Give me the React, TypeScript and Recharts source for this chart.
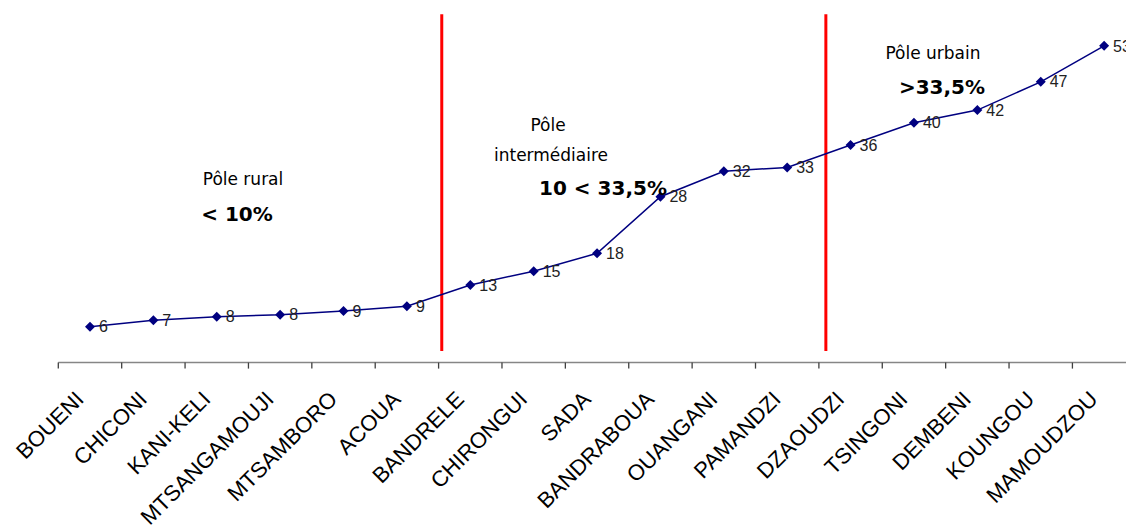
import React from "react";
import { LineChart, Line, XAxis, YAxis, ReferenceLine, LabelList } from "recharts";

// Communes of Mayotte, ordered by share (%)
const categories = [
  "BOUENI",
  "CHICONI",
  "KANI-KELI",
  "MTSANGAMOUJI",
  "MTSAMBORO",
  "ACOUA",
  "BANDRELE",
  "CHIRONGUI",
  "SADA",
  "BANDRABOUA",
  "OUANGANI",
  "PAMANDZI",
  "DZAOUDZI",
  "TSINGONI",
  "DEMBENI",
  "KOUNGOU",
  "MAMOUDZOU",
];

const shares = [6.0, 7.07, 7.68, 8.01, 8.63, 9.42, 12.98, 15.3, 18.28, 27.75, 32.0, 32.66, 36.4, 40.12, 42.25, 46.98, 53.0];

// Dividing lines between the rural, intermediate and urban groups (axis units)
const dividers = [6.05, 12.11];
const dividerSpan = [1.94, 58.3];

const data = categories.map((name, i) => ({ name, pos: i + 0.5, pct: shares[i] }));

// Boundary ticks at whole positions, name labels at half positions
const ticks: number[] = [];
for (let i = 0; i <= categories.length * 2; i++) ticks.push(i / 2);

const labelFont = "'Liberation Sans', Arial, sans-serif";
const noteFont = "'DejaVu Sans', 'Comic Sans MS', sans-serif";

function CommuneTick(props: any) {
  const { x, y, payload } = props;
  const v = payload.value as number;
  if (Number.isInteger(v)) {
    return <line x1={x} y1={y} x2={x} y2={y + 6} stroke="#404040" strokeWidth={1.3} />;
  }
  const name = categories[Math.floor(v)];
  const tx = x - 5;
  const ty = y + 38;
  return (
    <text
      x={tx}
      y={ty}
      transform={`rotate(-45 ${tx} ${ty})`}
      textAnchor="end"
      fontFamily={labelFont}
      fontSize={22}
      fill="#000"
    >
      {name}
    </text>
  );
}

function Diamond(props: any) {
  const { cx, cy, index } = props;
  if (cx == null || cy == null) return <g key={`d-${index}`} />;
  const r = 5;
  return (
    <path
      key={`d-${index}`}
      d={`M${cx},${cy - r}L${cx + r},${cy}L${cx},${cy + r}L${cx - r},${cy}Z`}
      fill="#000080"
    />
  );
}

type Note = { text: string; x: number; y: number; bold?: boolean };
const notes: Note[] = [
  { text: "Pôle rural", x: 243, y: 185 },
  { text: "< 10%", x: 237, y: 221, bold: true },
  { text: "Pôle", x: 548, y: 131 },
  { text: "intermédiaire", x: 551, y: 161 },
  { text: "10 < 33,5%", x: 603, y: 195, bold: true },
  { text: "Pôle urbain", x: 933, y: 59 },
  { text: ">33,5%", x: 942, y: 94, bold: true },
];

export default function App() {
  return (
    <div
      style={{
        position: "fixed",
        left: 0,
        top: 0,
        width: 1126,
        height: 527,
        overflow: "hidden",
        background: "#fff",
      }}
    >
      <LineChart width={1150} height={527} data={data} margin={{ top: 4, right: 14.2, bottom: 0, left: 58.3 }}>
        <XAxis
          dataKey="pos"
          type="number"
          domain={[0, categories.length]}
          ticks={ticks}
          interval={0}
          height={164.4}
          tickSize={0}
          tickMargin={0}
          tickLine={false}
          axisLine={{ stroke: "#868686", strokeWidth: 1.5 }}
          tick={<CommuneTick />}
        />
        <YAxis hide domain={[0, 60]} type="number" />
        {dividers.map((d) => (
          <ReferenceLine
            key={d}
            segment={[
              { x: d, y: dividerSpan[0] },
              { x: d, y: dividerSpan[1] },
            ]}
            stroke="#ff0000"
            strokeWidth={3}
          />
        ))}
        <Line
          dataKey="pct"
          stroke="#000080"
          strokeWidth={1.5}
          dot={Diamond}
          activeDot={false}
          isAnimationActive={false}
        >
          <LabelList
            dataKey="pct"
            position="right"
            offset={9}
            formatter={(v: any) => Math.round(Number(v))}
            fill="#222"
            fontSize={16}
            fontFamily={labelFont}
          />
        </Line>
      </LineChart>
      <svg
        width={1126}
        height={527}
        style={{ position: "absolute", left: 0, top: 0, pointerEvents: "none" }}
      >
        {notes.map((n) => (
          <text
            key={n.text}
            x={n.x}
            y={n.y}
            textAnchor="middle"
            fontFamily={noteFont}
            fontSize={n.bold ? 20 : 17}
            fontWeight={n.bold ? 700 : 400}
            fill="#000"
          >
            {n.text}
          </text>
        ))}
      </svg>
    </div>
  );
}
